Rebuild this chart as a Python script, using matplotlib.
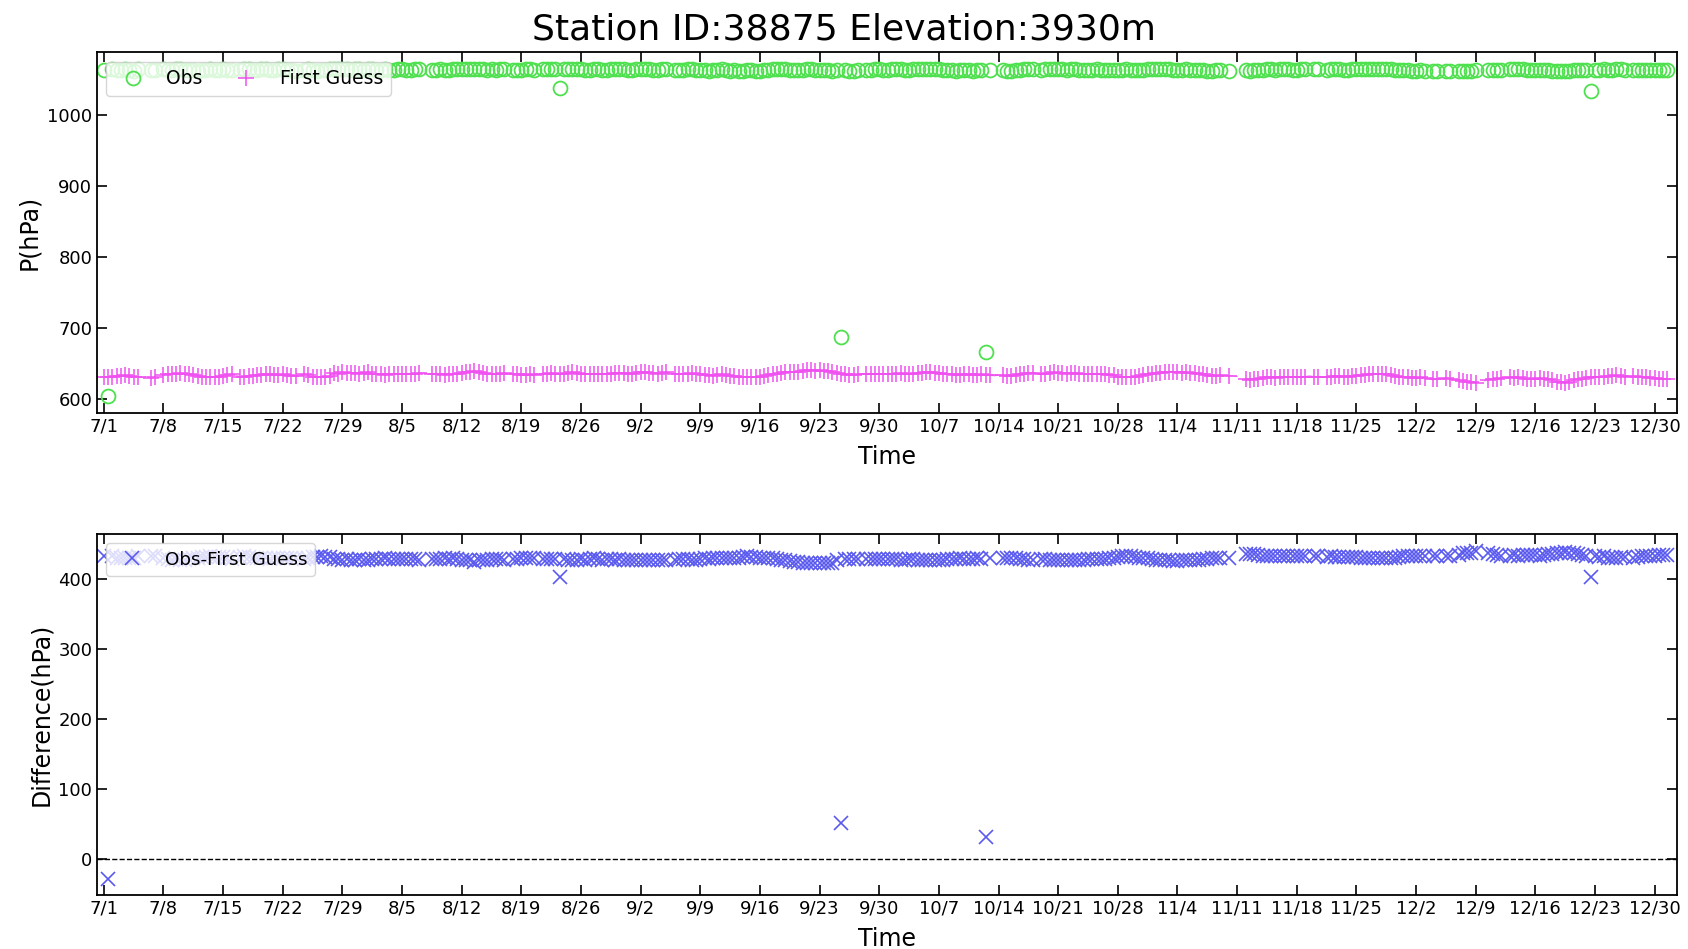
import numpy as np
import pandas as pd
import matplotlib
matplotlib.use("Agg")
import matplotlib.pyplot as plt
import matplotlib.dates as mdates

title = "Station ID:38875 Elevation:3930m"

# first guess (hPa), 00Z / 12Z pairs, one line per week starting 7/1
fg = [
    630,631, 631,632, 632,633, 632,631, 631,630, 631,629, 630,None,
    633,634, 635,635, 636,635, 634,633, 632,631, 631,630, 631,631,
    632,633, 634,633, 631,631, 632,632, 633,633, 634,634, 633,633,
    634,633, 632,632, 633,634, 633,631, 630,630, 631,632, 636,635,
    637,636, 636,636, 635,636, 637,635, 634,634, 633,634, 634,635,
    635,634, 634,635, 636,636, 635,634, 634,635, 633,634, 634,635,
    636,637, 638,639, 638,636, 635,635, 634,635, 636,635, 634,634,
    633,633, 634,633, 634,635, 635,636, 635,634, 635,636, 637,636,
    635,635, 634,634, 635,635, 634,635, 636,636, 636,635, 635,636,
    637,637, 636,636, 635,636, 637,636, 635,634, 634,635, 636,635,
    634,633, 633,632, 633,634, 633,632, 632,631, 630,630, 631,630,
    631,632, 633,634, 635,636, 637,637, 638,638, 639,640, 640,639,
    640,639, 639,638, 636,635, 634,633, 633,634, 635,634, 634,635,
    635,634, 634,635, 635,636, 635,634, 635,636, 636,637, 637,636,
    636,635, 634,634, 633,633, 634,634, 633,633, 634,633, 633,632,
    633,633, 632,632, 633,634, 635,636, 636,635, 634,635, 636,637,
    636,636, 635,636, 636,635, 635,634, 634,635, 634,634, 633,633,
    631,630, 630,630, 631,632, 633,634, 635,636, 636,637, 637,637,
    637,636, 637,636, 636,635, 634,633, 632,632, 633,632, 632,632,
    631,None, 627,626, 627,628, 629,630, 630,629, 630,631, 631,630,
    630,631, 631,632, 631,630, 630,631, 631,632, 632,631, 631,632,
    632,633, 633,634, 634,635, 635,634, 633,632, 631,630, 630,629,
    629,630, 629,628, 628,627, 628,629, 627,626, 626,625, 624,624,
    622,None, 625,626, 627,628, 629,630, 630,629, 630,629, 628,628,
    628,629, 628,627, 626,624, 623,622, 624,626, 627,628, 629,630,
    630,631, 631,632, 632,633, 632,631, 631,632, 631,630, 630,629,
    629,628, 628,628,
]

# observed surface pressure (hPa), same slots
obs = [
    1063,603, 1064,1063, 1063,1064, 1063,1062, 1064,None, None,1063, 1063,None,
    1064,1063, 1063,1064, 1064,1063, 1063,1063, 1062,1063, 1063,1064, 1063,1063,
    1064,1063, 1063,None, 1063,1064, 1064,1063, 1063,1064, 1064,1063, 1063,1064,
    1064,1063, 1063,1062, None,1063, 1064,1063, 1062,1063, 1063,1064, 1065,1064,
    1064,1065, 1063,1064, 1064,1063, 1065,1064, 1063,1063, 1064,1063, 1063,1064,
    1064,1063, 1063,1064, 1064,None, None,1063, 1063,1064, 1063,1063, 1064,1064,
    1064,1065, 1065,1064, 1065,1064, 1063,1064, 1063,1064, 1064,None, 1063,1063,
    1063,1064, 1064,1063, None,1064, 1064,1065, 1064,1037, 1064,1064, 1065,1064,
    1064,1063, 1063,1064, 1064,1063, 1063,1064, 1064,1065, 1064,1063, 1063,1064,
    1065,1064, 1064,1063, 1063,1064, 1064,None, 1063,1063, 1063,1064, 1064,1063,
    1063,1063, 1062,1063, 1063,1064, 1063,1062, 1063,1062, 1062,1063, 1063,1062,
    1062,1063, 1063,1064, 1064,1064, 1064,1063, 1063,1063, 1063,1064, 1064,1063,
    1063,1063, 1063,1062, 1063,687, 1063,1062, 1062,1063, None,1063, 1063,1064,
    1064,1063, 1063,1064, 1064,1064, 1063,1063, 1064,1064, 1064,1065, 1065,1064,
    1064,1063, 1063,1063, 1062,1063, 1063,1063, 1062,1063, 1063,665, 1063,None,
    None,1063, 1062,1062, 1063,1063, 1064,1064, 1064,None, 1063,1064, 1064,1065,
    1064,1064, 1063,1064, 1064,1063, 1063,1063, 1063,1064, 1063,1063, 1063,1063,
    1063,1063, 1064,1063, 1063,1063, 1063,1064, 1064,1064, 1064,1064, 1064,1063,
    1063,1063, 1064,1063, 1063,1063, 1063,1062, 1062,1063, 1063,None, 1062,None,
    None,None, 1063,1062, 1063,1063, 1063,1064, 1064,1063, 1064,1064, 1064,1063,
    1063,1064, 1064,None, 1064,1064, None,1063, 1064,1064, 1064,1063, 1063,1064,
    1064,1064, 1064,1065, 1065,1065, 1065,1064, 1064,1063, 1063,1063, 1063,1062,
    1062,1063, 1062,None, 1062,1061, None,1062, 1061,None, 1061,1062, 1061,1062,
    1063,None, None,1063, 1063,1063, 1063,None, 1064,1064, 1064,1064, 1063,1063,
    1063,1063, 1063,1063, 1062,1062, 1061,1061, 1062,1063, 1063,1063, 1063,1033,
    1063,1063, 1064,1063, 1063,1064, 1064,1063, None,1063, 1063,1063, 1063,1063,
    1063,1063, 1063,1063,
]

fg = np.array(fg, dtype=float)
obs = np.array(obs, dtype=float)
diff = obs - fg
t = pd.date_range("2023-07-01", periods=len(fg), freq="12h")
has_obs = ~np.isnan(obs)

tick_days = pd.date_range("2023-07-01", "2023-12-30", freq="7D")
xlim = (pd.Timestamp("2023-06-30 05:00"), pd.Timestamp("2024-01-01 15:00"))

c_obs = "#4ee04e"
c_fg = "#f050f0"
c_diff = "#5a5aee"

fig = plt.figure(figsize=(16.88, 9.49), dpi=100)
ax1 = fig.add_axes([0.0575, 0.565, 0.936, 0.380])
ax2 = fig.add_axes([0.0575, 0.057, 0.936, 0.380])

ax1.plot(t, obs, "o", mfc="none", mec=c_obs, ms=10, mew=1.3, label="Obs")
ax1.plot(t, fg, "-", color=c_fg, lw=0.8, alpha=0.7)
ax1.plot(t[has_obs], fg[has_obs], "+", color=c_fg, ms=11, mew=1.1, ls="none",
         label="First Guess")
ax1.set_ylabel("P(hPa)", fontsize=17)
ax1.legend(loc="upper left", ncol=2, fontsize=13.5, columnspacing=1.3)

ax2.plot(t, diff, "x", color=c_diff, ms=10, mew=1.2, ls="none", label="Obs-First Guess")
ax2.axhline(0, color="black", ls="--", lw=1.0)
ax2.set_ylabel("Difference(hPa)", fontsize=17)
ax2.legend(loc="upper left", fontsize=13.2)

for ax in (ax1, ax2):
    ax.set_xlim(xlim)
    ax.set_xticks(tick_days)
    ax.xaxis.set_major_formatter(mdates.DateFormatter("%-m/%-d"))
    ax.set_xlabel("Time", fontsize=17, labelpad=7)
    ax.tick_params(direction="in", top=True, right=True, length=7, width=1.2,
                   labelsize=13)
    for s in ax.spines.values():
        s.set_linewidth(1.3)

fig.suptitle(title, fontsize=26, y=0.987)

fig.savefig("out.png", dpi=100)
